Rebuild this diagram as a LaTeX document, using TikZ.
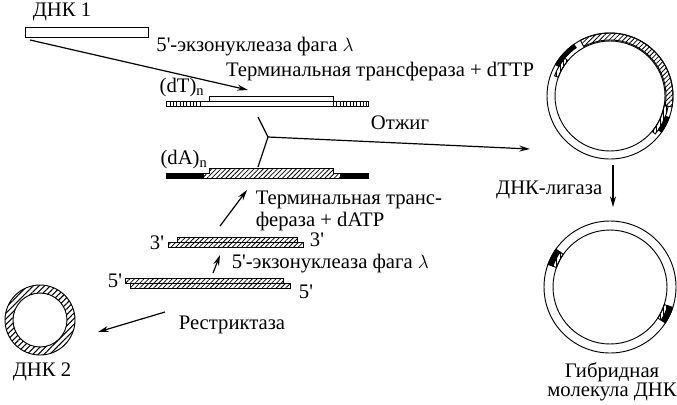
\documentclass[tikz,border=0pt]{standalone}
\usepackage{fontspec}
\setmainfont{Liberation Serif}[Ligatures=TeXOff]
\usetikzlibrary{patterns,patterns.meta,arrows.meta}
\begin{document}
\begin{tikzpicture}[x=0.75pt,y=-0.75pt, line width=0.7pt,
  lbl/.style={font=\fontsize{15.5}{18}\selectfont, inner sep=1pt},
  arr/.style={-{Stealth[length=8pt,width=4.5pt]}, line width=0.9pt},
  hat/.style={draw, pattern={Lines[angle=45,distance=2.5pt,line width=0.6pt]}},
  dot/.style={draw, pattern={Lines[angle=90,distance=2.5pt,line width=0.5pt]}},
  blk/.style={draw, fill=black}]
\useasboundingbox (0,0) rectangle (677,404);
% DNA 1
\node[lbl] (d1) at (62,12) {ДНК 1};
\draw (25,27) rectangle (148,37);
\coordinate (a1s) at (30,40);
\coordinate (a1e) at (248,90);
\draw[arr] (a1s) -- (a1e);
\node[lbl] (exo1) at (255,47) {5'-экзонуклеаза фага $\lambda$};
\node[lbl] (tt) at (380,72) {Терминальная трансфераза + dTTP};
% dT strand
\node[lbl] (dT) at (182,88) {(dT)$_\mathrm{n}$};
\draw (200,101) -- (209,101) -- (209,96) -- (333,96) -- (333,101) -- (335,101);
\draw (166,101) rectangle (368,106);
\draw[dot] (166,101) rectangle (200,106);
\draw[dot] (333,101) rectangle (368,106);
\draw (200,101) -- (333,101);
% Y junction
\coordinate (y1) at (258,117);
\coordinate (y2) at (258,167);
\coordinate (yj) at (268,137);
\coordinate (ye) at (530,149);
\draw[line width=0.9pt] (y1) -- (yj) -- (y2);
\draw[arr] (yj) -- (ye);
\node[lbl] (otj) at (400,123) {Отжиг};
% dA strand
\node[lbl] (dA) at (184,160) {(dA)$_\mathrm{n}$};
\draw[hat] (203,173) -- (209,173) -- (209,168) -- (333,168) -- (333,173) -- (340,173) -- (340,178) -- (203,178) -- cycle;
\draw[blk] (166,173) rectangle (203,178);
\draw[blk] (340,173) rectangle (368,178);
% arrow to dA
\coordinate (a2s) at (220,226);
\coordinate (a2e) at (247,190);
\draw[arr] (a2s) -- (a2e);
\node[lbl, anchor=west] (tt2) at (254,200) {Терминальная транс-};
\node[lbl, anchor=west] (tt3) at (254,222) {фераза + dATP};
% 3' strands
\draw[hat] (177,237) rectangle (297,242);
\draw[hat] (168,242) rectangle (303,247);
\node[lbl] (t3a) at (157,243) {3'};
\node[lbl] (t3b) at (317,240) {3'};
\coordinate (a3s) at (213,273);
\coordinate (a3e) at (220,255);
\draw[arr] (a3s) -- (a3e);
\node[lbl, anchor=west] (exo2) at (230,264) {5'-экзонуклеаза фага $\lambda$};
% 5' strands
\draw[hat] (125,278) rectangle (283,283);
\draw[hat] (130,283) rectangle (290,288);
\node[lbl] (f5a) at (115,281) {5'};
\node[lbl] (f5b) at (306,292) {5'};
% DNA 2
\draw[pattern={Lines[angle=45,distance=3pt,line width=0.8pt]}, even odd rule] (40,320) circle (35) (40,320) circle (27);
\node[lbl] (d2) at (42,372) {ДНК 2};
\coordinate (a4s) at (165,312);
\coordinate (a4e) at (98,332);
\draw[arr] (a4s) -- (a4e);
\node[lbl] (rs) at (232,325) {Рестриктаза};
% big circle top
\begin{scope}[shift={(610,96)}, yscale=-1]
 \draw (0,0) circle (63);
 \draw (0,0) circle (55);
 \draw[hat] (118:63) arc (118:-10:63) -- (-10:56) arc (-10:118:56) -- cycle;
 \draw[blk] (150:63) arc (150:125:63) -- (125:59) arc (125:150:59) -- cycle;
 \draw[dot] (160:59) arc (160:140:59) -- (140:55) arc (140:160:55) -- cycle;
 \draw[blk] (-20:63) arc (-20:-35:63) -- (-35:59) arc (-35:-20:59) -- cycle;
 \draw[dot] (-10:59) arc (-10:-40:59) -- (-40:55) arc (-40:-10:55) -- cycle;
\end{scope}
\coordinate (a5s) at (613,165);
\coordinate (a5e) at (613,207);
\draw[arr] (a5s) -- (a5e);
\node[lbl, anchor=east] (lig) at (604,190) {ДНК-лигаза};
% lower circle
\begin{scope}[shift={(610,287)}, yscale=-1]
 \draw (0,0) circle (66);
 \draw (0,0) circle (57);
 \draw[blk] (160:66) arc (160:145:66) -- (145:61) arc (145:160:61) -- cycle;
 \draw[dot] (160:61) arc (160:145:61) -- (145:57) arc (145:160:57) -- cycle;
 \draw[blk] (-18:66) arc (-18:-33:66) -- (-33:61) arc (-33:-18:61) -- cycle;
 \draw[dot] (-18:61) arc (-18:-33:61) -- (-33:57) arc (-33:-18:57) -- cycle;
\end{scope}
\node[lbl] (g1) at (612,372) {Гибридная};
\node[lbl] (g2) at (612,392) {молекула ДНК};
\end{tikzpicture}
\end{document}
